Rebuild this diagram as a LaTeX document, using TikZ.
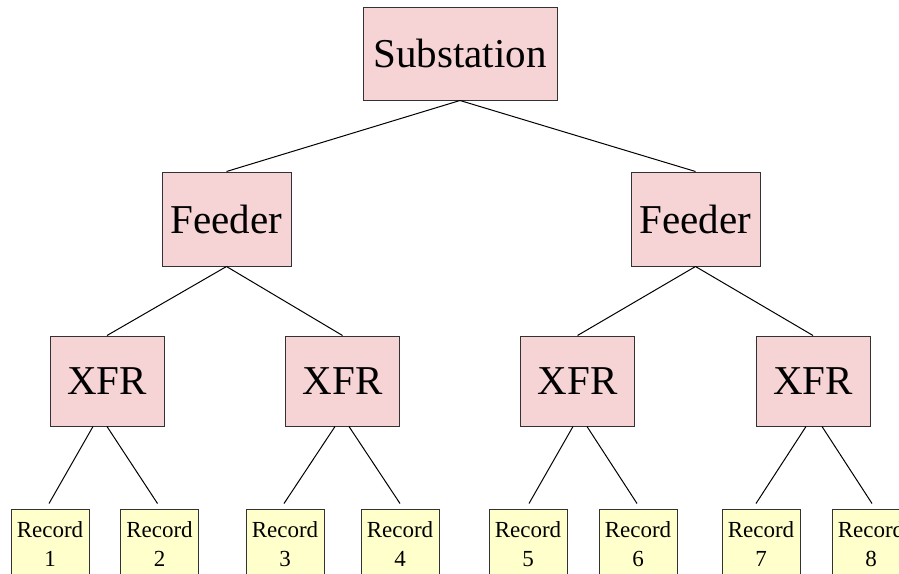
\documentclass[tikz,border=0pt]{standalone}
\usepackage{fontspec}
\setmainfont{Liberation Serif}
\usetikzlibrary{calc}
\definecolor{pinkfill}{RGB}{246,211,212}
\definecolor{yellowfill}{RGB}{255,255,204}
\definecolor{boxline}{RGB}{50,50,50}
\begin{document}
\begin{tikzpicture}[x=1pt,y=-1pt,
  bigbox/.style={draw=boxline,line width=1pt,fill=pinkfill,inner sep=0pt,
    font=\fontsize{41}{49}\selectfont},
  recbox/.style={draw=boxline,line width=1pt,fill=yellowfill,inner sep=0pt,
    minimum width=78pt,minimum height=70pt,align=center,
    font=\fontsize{23}{29}\selectfont},
  edge/.style={draw=black,line width=1pt}]
\useasboundingbox (0,0) rectangle (899,573);
\clip (0,0) rectangle (899,573);
\fill[white] (0,0) rectangle (899,573);
% top
\node[bigbox,minimum width=194pt,minimum height=93pt] (sub) at (460,53.5) {Substation};
\node[bigbox,minimum width=129pt,minimum height=94pt] (fl) at (226.5,219) {Feeder};
\node[bigbox,minimum width=129pt,minimum height=94pt] (fr) at (695.5,219) {Feeder};
\node[bigbox,minimum width=114pt,minimum height=90pt] (x1) at (107,381) {XFR};
\node[bigbox,minimum width=114pt,minimum height=90pt] (x2) at (342.5,381) {XFR};
\node[bigbox,minimum width=114pt,minimum height=90pt] (x3) at (577.5,381) {XFR};
\node[bigbox,minimum width=114pt,minimum height=90pt] (x4) at (813,381) {XFR};
\node[recbox] (r1) at (50,544) {Record\\1};
\node[recbox] (r2) at (159.5,544) {Record\\2};
\node[recbox] (r3) at (285,544) {Record\\3};
\node[recbox] (r4) at (400,544) {Record\\4};
\node[recbox] (r5) at (528,544) {Record\\5};
\node[recbox] (r6) at (638,544) {Record\\6};
\node[recbox] (r7) at (761,544) {Record\\7};
\node[recbox] (r8) at (871,544) {Record\\8};
% edges
\draw[edge] (sub.south) -- (fl.north);
\draw[edge] (sub.south) -- (fr.north);
\draw[edge] (fl.south) -- (x1.north);
\draw[edge] (fl.south) -- (x2.north);
\draw[edge] (fr.south) -- (x3.north);
\draw[edge] (fr.south) -- (x4.north);
\draw[edge] ($(x1.south)+(-14,0)$) -- ($(r1.north)+(-1,-5)$);
\draw[edge] ($(x1.south)+(0,0)$) -- ($(r2.north)+(-2,-5)$);
\draw[edge] ($(x2.south)+(-7.5,0)$) -- ($(r3.north)+(-1,-5)$);
\draw[edge] ($(x2.south)+(6.5,0)$) -- ($(r4.north)+(0,-5)$);
\draw[edge] ($(x3.south)+(-4.5,0)$) -- ($(r5.north)+(1,-5)$);
\draw[edge] ($(x3.south)+(9.5,0)$) -- ($(r6.north)+(-1,-5)$);
\draw[edge] ($(x4.south)+(-7,0)$) -- ($(r7.north)+(-5,-5)$);
\draw[edge] ($(x4.south)+(9,0)$) -- ($(r8.north)+(1,-5)$);
\end{tikzpicture}
\end{document}
